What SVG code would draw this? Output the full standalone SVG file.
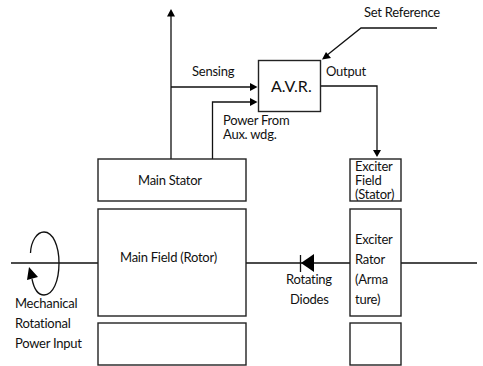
<svg xmlns="http://www.w3.org/2000/svg" width="483" height="366" viewBox="0 0 483 366">
<style>
.b{fill:#fff;stroke:#222;stroke-width:1.4}
.l{fill:none;stroke:#111;stroke-width:1.3}
.h{fill:#000;stroke:none}
text{font-family:"Lato","Open Sans",sans-serif;font-size:13px;letter-spacing:-.25px;fill:#111}
</style>
<rect width="483" height="366" fill="#fff"/>
<g id="connectors">
<path class="l" d="M11 263H98M246 263H350M401 263H477"/>
<path class="l" d="M171 159V14M171 87H252M212.500 159V102H252M320 86H377V152M437 28H361L326 56"/>
<path class="l" d="M30.500 253C31 241 37 232 44 232C53 232 59 246 59 263C59 281 53 295 44 295C38 295 34 289 32 279"/>
<path class="h" d="M171 9L175 16.500H167ZM257.500 87L250 83V91ZM257.500 102L250 98V106ZM377 157L373 150H381ZM322 59.500L326 52L331 58ZM29 267L27 280L38 277Z"/>
<path class="h" d="M301 263L314 254V272Z"/>
<path class="l" d="M300.500 255V272"/>
</g>
<g id="avr"><rect class="b" x="258.500" y="60.500" width="62" height="51"/><text x="271" y="92" style="font-size:16px;letter-spacing:0">A.V.R.</text></g>
<g id="main-stator"><rect class="b" x="98" y="159" width="148" height="42"/><text x="138" y="185">Main Stator</text></g>
<g id="main-field"><rect class="b" x="98" y="209" width="148" height="107"/><text x="120" y="262">Main Field (Rotor)</text></g>
<g id="main-bottom"><rect class="b" x="98" y="323" width="148" height="42"/></g>
<g id="exciter-field"><rect class="b" x="350" y="159" width="51" height="42"/><text x="355" y="171">Exciter</text><text x="355" y="185">Field</text><text x="355" y="199">(Stator)</text></g>
<g id="exciter-rotor"><rect class="b" x="350" y="209" width="51" height="107"/><text x="355" y="244">Exciter</text><text x="355" y="264">Rator</text><text x="355" y="284">(Arma</text><text x="355" y="304">ture)</text></g>
<g id="exciter-bottom"><rect class="b" x="350" y="323" width="51" height="42"/></g>
<g id="labels">
<text x="192" y="76">Sensing</text>
<text x="326" y="76">Output</text>
<text x="364" y="17">Set Reference</text>
<text x="223" y="125">Power From</text>
<text x="223" y="139">Aux. wdg.</text>
<text x="286" y="284">Rotating</text>
<text x="290" y="304">Diodes</text>
<text x="15" y="308">Mechanical</text>
<text x="15" y="328">Rotational</text>
<text x="15" y="348">Power Input</text>
</g>
</svg>
